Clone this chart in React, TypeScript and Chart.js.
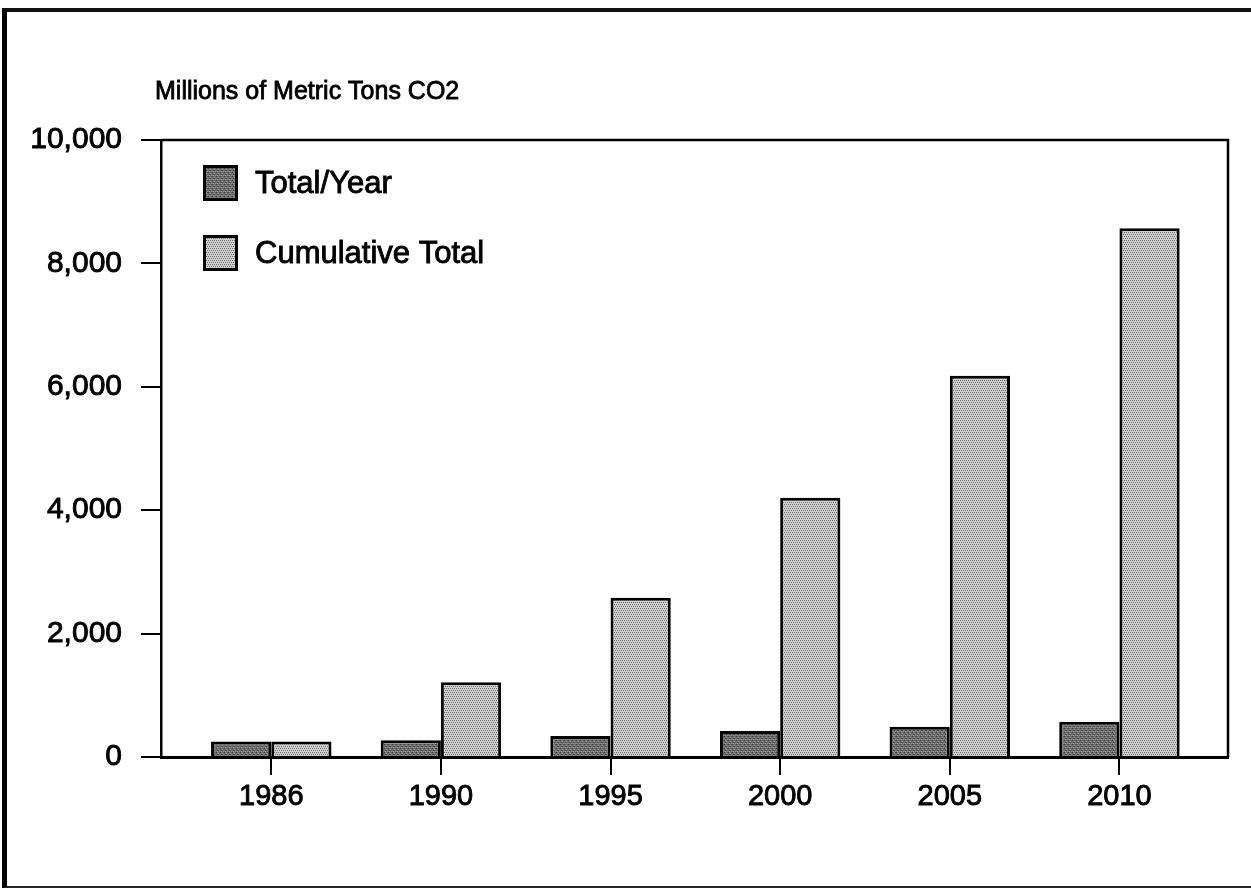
import React, { useEffect, useRef } from "react";
import { Chart, registerables } from "chart.js";

Chart.register(...registerables);

const categories = ["1986", "1990", "1995", "2000", "2005", "2010"];
const seriesLabels = ["Total/Year", "Cumulative Total"];
const totalPerYear = [250, 270, 340, 420, 490, 570];
const cumulativeTotal = [250, 1210, 2580, 4200, 6180, 8570];
const yTickValues = [0, 2000, 4000, 6000, 8000, 10000];
const titleText = "Millions of Metric Tons CO2";

const FONT = "'Liberation Sans', Arial, Helvetica, sans-serif";

function makePattern(size: number, base: string, cells: [number, number, string][]) {
  const c = document.createElement("canvas");
  c.width = size;
  c.height = size;
  const g = c.getContext("2d")!;
  g.fillStyle = base;
  g.fillRect(0, 0, size, size);
  cells.forEach(([x, y, col]) => {
    g.fillStyle = col;
    g.fillRect(x, y, 1, 1);
  });
  const p = g.createPattern(c, "repeat");
  return p || base;
}

const framePlugin = {
  id: "frame",
  afterDatasetsDraw(chart: any) {
    const { ctx, chartArea } = chart;
    ctx.save();
    ctx.strokeStyle = "#000";
    ctx.lineWidth = 2.5;
    ctx.beginPath();
    ctx.moveTo(chartArea.left, chartArea.top);
    ctx.lineTo(chartArea.right, chartArea.top);
    ctx.lineTo(chartArea.right, chartArea.bottom);
    ctx.stroke();
    ctx.restore();
  },
};

const unitTitlePlugin = {
  id: "unitTitle",
  afterDraw(chart: any) {
    const { ctx, chartArea } = chart;
    ctx.save();
    ctx.font = `25px ${FONT}`;
    ctx.fillStyle = "#000";
    ctx.strokeStyle = "#000";
    ctx.lineWidth = 0.8;
    ctx.textAlign = "left";
    ctx.textBaseline = "middle";
    ctx.strokeText(titleText, chartArea.left - 6, chartArea.top - 48);
    ctx.fillText(titleText, chartArea.left - 6, chartArea.top - 48);
    ctx.restore();
  },
};

const boxLegendPlugin = {
  id: "boxLegend",
  afterDraw(chart: any) {
    const { ctx, chartArea } = chart;
    ctx.save();
    chart.data.datasets.forEach((ds: any, i: number) => {
      const x = chartArea.left + 42;
      const y = chartArea.top + 25 + i * 70;
      ctx.fillStyle = ds.backgroundColor;
      ctx.fillRect(x, y, 35, 36);
      ctx.strokeStyle = "#000";
      ctx.lineWidth = 3;
      ctx.strokeRect(x + 1.5, y + 1.5, 32, 33);
      ctx.fillStyle = "#000";
      ctx.font = `31px ${FONT}`;
      ctx.textBaseline = "middle";
      ctx.textAlign = "left";
      ctx.lineWidth = 0.9;
      ctx.strokeText(ds.label, x + 52, y + 19);
      ctx.fillText(ds.label, x + 52, y + 19);
    });
    ctx.restore();
  },
};

export default function App() {
  const canvasRef = useRef<HTMLCanvasElement | null>(null);

  useEffect(() => {
    if (!canvasRef.current) return;
    const darkFill = makePattern(4, "#727272", [
      [0, 0, "#3a3a3a"], [2, 1, "#9a9a9a"], [1, 2, "#444444"], [3, 3, "#8c8c8c"],
      [3, 0, "#555555"], [1, 3, "#a0a0a0"], [2, 2, "#4a4a4a"],
    ]);
    const lightFill = makePattern(4, "#d0d0d0", [
      [0, 0, "#666666"], [2, 0, "#6c6c6c"], [1, 2, "#686868"], [3, 2, "#6e6e6e"],
    ]);

    const chart = new Chart(canvasRef.current, {
      type: "bar",
      data: {
        datasets: [
          {
            label: seriesLabels[0],
            data: categories.map((_, i) => ({ x: i, y: totalPerYear[i] })),
            backgroundColor: darkFill as any,
            borderColor: "#000",
            borderWidth: 3,
          },
          {
            label: seriesLabels[1],
            data: categories.map((_, i) => ({ x: i, y: cumulativeTotal[i] })),
            backgroundColor: lightFill as any,
            borderColor: "#000",
            borderWidth: 3,
          },
        ],
      },
      options: {
        animation: false,
        responsive: true,
        maintainAspectRatio: false,
        layout: { padding: { left: 0, right: 23, top: 140, bottom: 71 } },
        datasets: { bar: { categoryPercentage: 0.71, barPercentage: 1 } },
        plugins: {
          legend: { display: false },
          tooltip: { enabled: false },
          title: { display: false },
        },
        scales: {
          x: {
            type: "linear",
            offset: false,
            min: -0.65,
            max: 5.64,
            afterBuildTicks: (scale: any) => {
              scale.ticks = categories.map((_, i) => ({ value: i }));
            },
            afterFit: (scale: any) => {
              scale.height = 60;
            },
            ticks: {
              autoSkip: false,
              maxRotation: 0,
              color: "#000",
              textStrokeColor: "#000",
              textStrokeWidth: 0.9,
              padding: 5,
              font: { family: FONT, size: 29 },
              callback: (v: any) => categories[Number(v)] ?? "",
            },
            grid: { offset: false, drawOnChartArea: false, drawTicks: true, tickLength: 18, color: "#000", lineWidth: 2 },
            border: { display: true, color: "#000", width: 3 },
          },
          y: {
            min: 0,
            max: 10000,
            afterBuildTicks: (scale: any) => {
              scale.ticks = yTickValues.map((v) => ({ value: v }));
            },
            afterFit: (scale: any) => {
              scale.width = 161;
            },
            ticks: {
              color: "#000",
              textStrokeColor: "#000",
              textStrokeWidth: 0.9,
              padding: 19,
              font: { family: FONT, size: 30 },
              callback: (v: any) => Number(v).toLocaleString("en-US"),
            },
            grid: { drawOnChartArea: false, drawTicks: true, tickLength: 20, color: "#000", lineWidth: 2 },
            border: { display: true, color: "#000", width: 2.5 },
          },
        },
      },
      plugins: [framePlugin, unitTitlePlugin, boxLegendPlugin],
    });
    return () => chart.destroy();
  }, []);

  return (
    <div style={{ position: "absolute", left: 0, top: 0, width: 1251, height: 888, background: "#fff", overflow: "hidden" }}>
      <div
        style={{
          position: "absolute",
          left: 2,
          top: 8,
          width: 1270,
          height: 874,
          borderLeft: "5px solid #000",
          borderTop: "4px solid #111",
          borderBottom: "3px solid #222",
        }}
      />
      <canvas ref={canvasRef} style={{ position: "absolute", left: 0, top: 0, width: 1251, height: 888 }} />
    </div>
  );
}
